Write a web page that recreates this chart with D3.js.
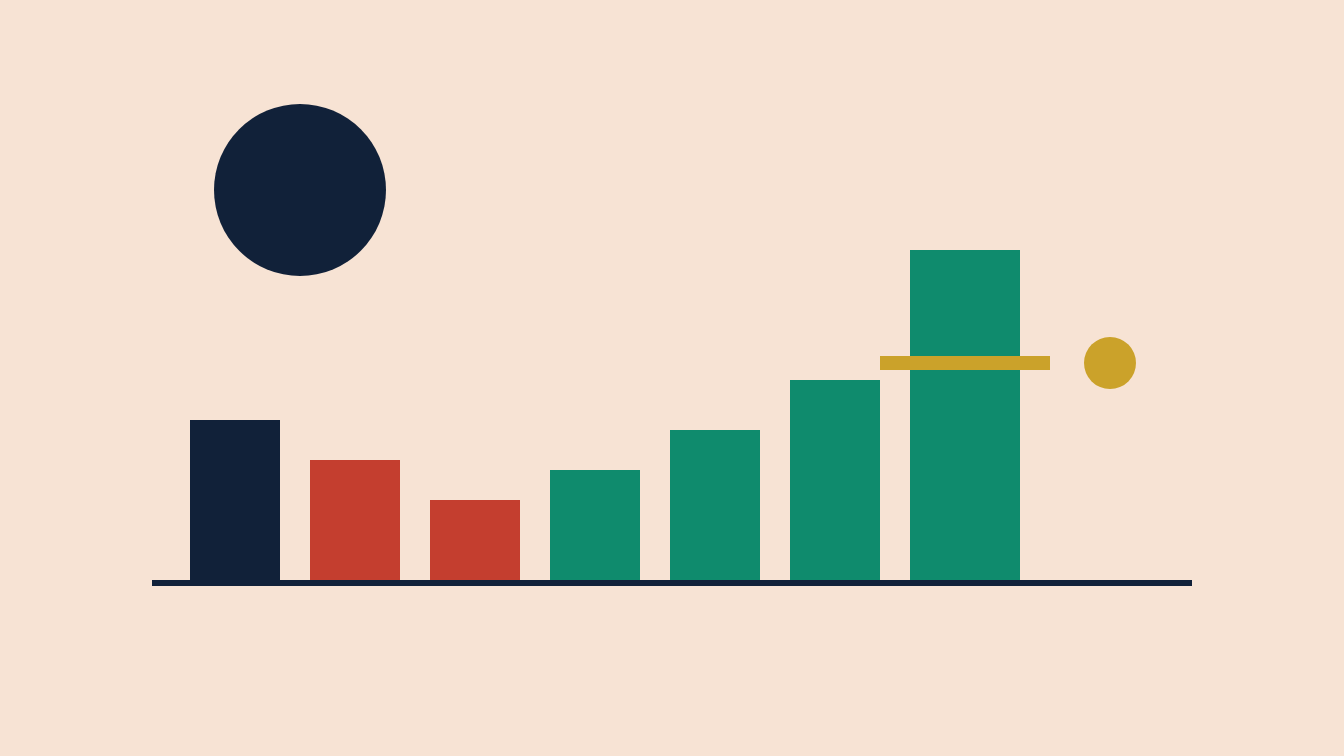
<!DOCTYPE html>
<html><head><meta charset="utf-8">
<script src="https://cdn.jsdelivr.net/npm/d3@7"></script>
<style>html,body{margin:0;padding:0;background:#F7E3D4;overflow:hidden}svg{display:block}</style>
</head><body>
<svg id="c" width="1344" height="756"></svg>
<script>
const categories = ["A","B","C","D","E","F","G"];
const values = [160, 120, 80, 110, 150, 200, 330];
const groups = ["base","down","down","up","up","up","peak"];
const targetValue = [217];
const sunValue = [390];

const colors = {base:"#112139", down:"#C43E2F", up:"#0F8B6D", peak:"#0F8B6D"};
const svg = d3.select("#c");
svg.append("rect").attr("width",1344).attr("height",756).attr("fill","#F7E3D4");

const y = d3.scaleLinear().domain([0, 330]).range([580, 250]);
const x = d3.scaleLinear().domain([0, 1]).range([190, 310]);
const bw = x(0.75) - x(0);

svg.selectAll("rect.bar").data(values).join("rect")
  .attr("class","bar")
  .attr("x",(d,i)=>x(i))
  .attr("y",d=>y(d))
  .attr("width",(d,i)=>groups[i]==="peak"? bw+20 : bw)
  .attr("height",d=>y(0)-y(d))
  .attr("fill",(d,i)=>colors[groups[i]]);

// baseline axis
svg.append("rect").attr("x",152).attr("y",y(0)).attr("width",1040).attr("height",6).attr("fill","#112139");

// target marker
const ti = 6;
svg.selectAll("rect.target").data(targetValue).join("rect")
  .attr("class","target")
  .attr("x",x(ti)-30).attr("y",d=>y(d)-7).attr("width",170).attr("height",14).attr("fill","#CBA22A");
svg.selectAll("circle.tdot").data(targetValue).join("circle")
  .attr("class","tdot")
  .attr("cx",x(ti)+200).attr("cy",d=>y(d)).attr("r",26).attr("fill","#CBA22A");

// sun
svg.selectAll("circle.sun").data(sunValue).join("circle")
  .attr("class","sun")
  .attr("cx",300).attr("cy",d=>y(d)).attr("r",86).attr("fill","#112139");
</script>
</body></html>
